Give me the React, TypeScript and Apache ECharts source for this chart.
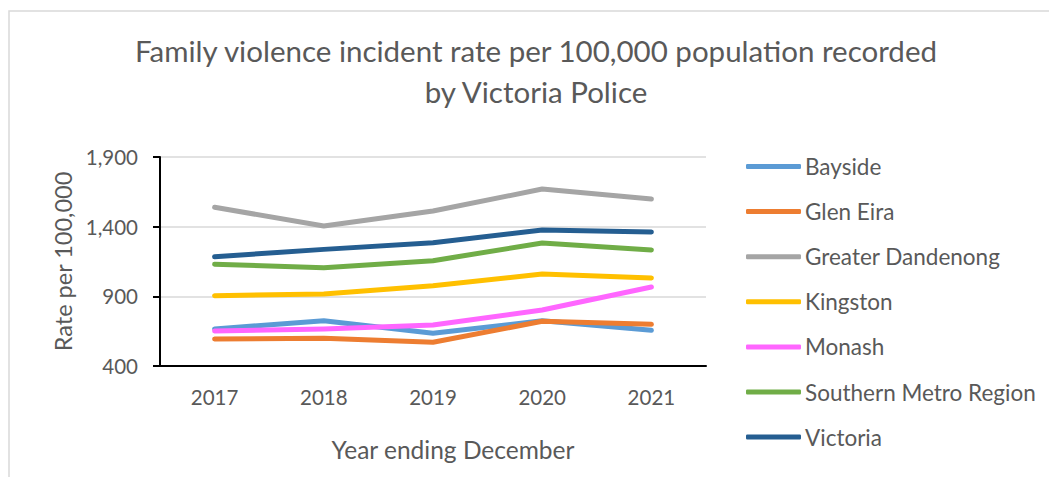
import React, { useEffect, useRef } from "react";
import * as echarts from "echarts";

const years = ["2017", "2018", "2019", "2020", "2021"];
const bayside = [666, 725, 635, 725, 656];
const glenEira = [594, 599, 570, 721, 699];
const greaterDandenong = [1539, 1405, 1512, 1670, 1599];
const kingston = [905, 917, 976, 1060, 1032];
const monash = [651, 666, 694, 802, 967];
const southernMetro = [1130, 1106, 1156, 1283, 1233];
const victoria = [1184, 1237, 1285, 1376, 1362];

const seriesNames = ["Bayside", "Glen Eira", "Greater Dandenong", "Kingston", "Monash", "Southern Metro Region", "Victoria"];
const seriesData = [bayside, glenEira, greaterDandenong, kingston, monash, southernMetro, victoria];
const colors = ["#5B9BD5", "#ED7D31", "#A5A5A5", "#FFC000", "#FF66FF", "#70AD47", "#255E91"];

const FONT = "Lato, 'Open Sans', sans-serif";
const TXT = "#595959";

export default function App() {
  const ref = useRef<HTMLDivElement>(null);
  useEffect(() => {
    if (!ref.current) return;
    const chart = echarts.init(ref.current, null, { renderer: "svg" });
    chart.setOption({
      animation: false,
      textStyle: { fontFamily: FONT },
      graphic: [
        {
          type: "rect",
          shape: { x: 9, y: 11, width: 1100, height: 500 },
          style: { fill: "none", stroke: "#D9D9D9", lineWidth: 1.5 },
          silent: true,
        },
        {
          type: "text",
          x: 536,
          y: 50,
          style: {
            text: "Family violence incident rate per 100,000 population recorded",
            fill: TXT,
            font: `29.5px ${FONT}`,
            textAlign: "center",
            textVerticalAlign: "middle",
          },
        },
        {
          type: "text",
          x: 536,
          y: 91,
          style: {
            text: "by Victoria Police",
            fill: TXT,
            font: `29.5px ${FONT}`,
            textAlign: "center",
            textVerticalAlign: "middle",
          },
        },
        {
          type: "text",
          x: 453,
          y: 449,
          style: {
            text: "Year ending December",
            fill: TXT,
            font: `24.5px ${FONT}`,
            textAlign: "center",
            textVerticalAlign: "middle",
          },
        },
      ],
      grid: { left: 160, top: 157, right: 343, bottom: 111, containLabel: false },
      legend: {
        orient: "vertical",
        left: 746,
        top: 155,
        padding: 0,
        itemWidth: 55,
        itemHeight: 5,
        itemGap: 22.1,
        icon: "roundRect",
        textStyle: { color: TXT, fontSize: 22.5, fontFamily: FONT, lineHeight: 21, padding: [0, 0, 0, -1] },
        data: seriesNames,
      },
      xAxis: {
        type: "category",
        data: years,
        boundaryGap: true,
        axisLine: { lineStyle: { color: "#000", width: 2 } },
        axisTick: { alignWithLabel: true, length: 6, lineStyle: { color: "#000", width: 2 } },
        axisLabel: { color: TXT, fontSize: 20.5, margin: 20, fontFamily: FONT },
      },
      yAxis: {
        type: "value",
        min: 400,
        max: 1900,
        interval: 500,
        name: "Rate per 100,000",
        nameLocation: "middle",
        nameGap: 84,
        nameTextStyle: { color: TXT, fontSize: 23.5, fontFamily: FONT },
        axisLine: { show: true, lineStyle: { color: "#000", width: 2 } },
        axisTick: { show: true, length: 7, lineStyle: { color: "#000", width: 2 } },
        axisLabel: {
          color: TXT,
          fontSize: 20.5,
          margin: 22,
          fontFamily: FONT,
          formatter: (v: number) => v.toLocaleString("en-US"),
        },
        splitLine: { lineStyle: { color: "#D9D9D9", width: 1.5 } },
      },
      series: seriesNames.map((name, i) => ({
        name,
        type: "line",
        data: seriesData[i],
        showSymbol: false,
        symbol: "none",
        color: colors[i],
        lineStyle: { width: 5, color: colors[i], cap: "round", join: "round" },
        itemStyle: { color: colors[i] },
      })),
    });
    return () => chart.dispose();
  }, []);
  return (
    <div
      ref={ref}
      style={{ position: "fixed", left: 0, top: 0, width: 1049, height: 477, background: "#fff" }}
    />
  );
}
